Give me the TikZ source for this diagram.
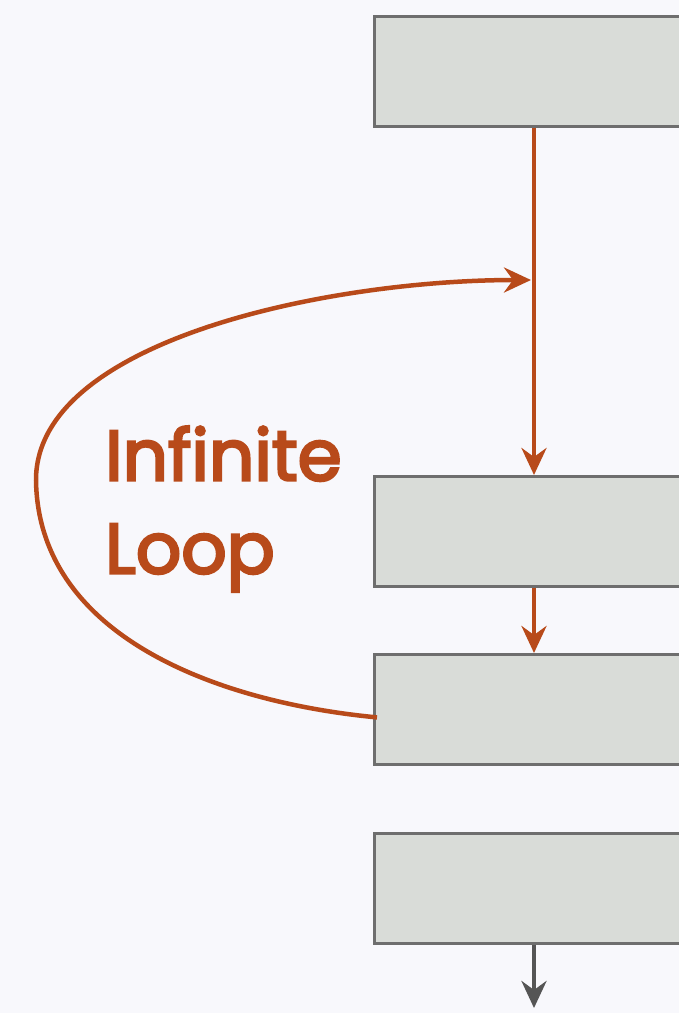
\documentclass[tikz,border=0pt]{standalone}
\usepackage{fontspec}
\setmainfont{Poppins}
\newfontfamily\labelfont{Poppins}[FakeBold=3.5]
\usetikzlibrary{arrows.meta,calc}
\definecolor{bgpaper}{HTML}{F8F8FC}
\definecolor{boxfill}{HTML}{D9DCD8}
\definecolor{boxedge}{HTML}{6E6E6E}
\definecolor{loopcol}{HTML}{B84A1A}
\definecolor{flowgray}{HTML}{555555}
\tikzset{
  stagebox/.style={draw=boxedge, line width=2.8pt, fill=boxfill, anchor=north west,
    minimum width=360pt, minimum height=110pt, inner sep=0pt},
  looparrow/.style={draw=loopcol, line width=4.5pt,
    -{Stealth[length=27pt,width=25pt,inset=9pt]}},
  grayarrow/.style={draw=flowgray, line width=4.5pt,
    -{Stealth[length=27pt,width=25pt,inset=9pt]}},
  looplabel/.style={text=loopcol, font=\labelfont\fontsize{71pt}{93pt}\selectfont,
    align=left, anchor=north west, inner sep=0pt}
}
\begin{document}
\begin{tikzpicture}[x=1pt,y=-1pt]
  \fill[bgpaper] (0,0) rectangle (679,1013);
  \useasboundingbox (0,0) rectangle (679,1013);
  \clip (0,0) rectangle (679,1013);

  \node[stagebox] (box1) at (373,15) {};
  \node[stagebox] (box2) at (373,475) {};
  \node[stagebox] (box3) at (373,653) {};
  \node[stagebox] (box4) at (373,832) {};

  \coordinate (join) at (534,280);
  \coordinate (out) at (534,1008);

  % main flow
  \draw[looparrow, -] ($(box1.south west)+(161,0)$) -- (join);
  \draw[looparrow] (join) -- ($(box2.north west)+(161,0)$);
  \draw[looparrow] ($(box2.south west)+(161,0)$) -- ($(box3.north west)+(161,0)$);
  \draw[grayarrow] ($(box4.south west)+(161,0)$) -- (out);

  % loop back from the third stage
  \draw[looparrow] ($(box3.west)+(4,8)$)
    .. controls (215,702) and (38,635) .. (36,480)
    .. controls (36,340) and (330,280) .. ($(join)+(-3,0)$);

  \node[looplabel] (label) at (105,426) {Infinite\\Loop};
\end{tikzpicture}
\end{document}
